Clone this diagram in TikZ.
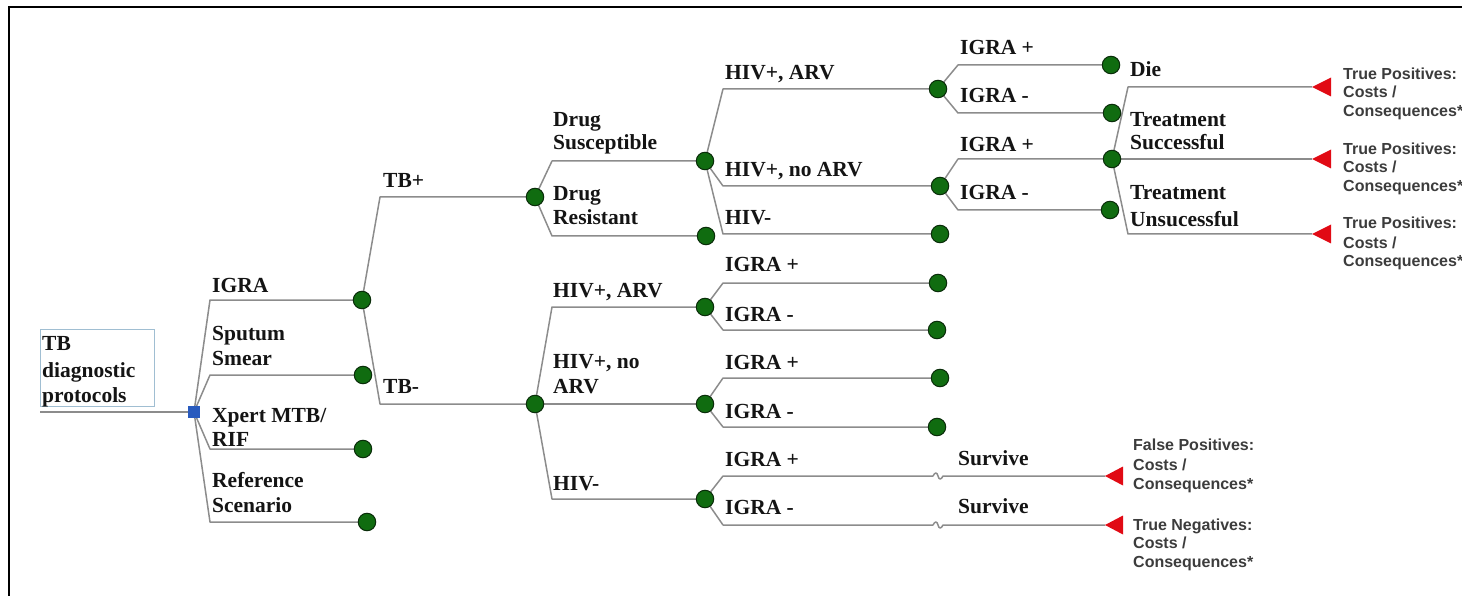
\documentclass[tikz,border=0pt]{standalone}
\usepackage{fontspec}
\setmainfont{Liberation Serif}
\newfontfamily\lsans{Liberation Sans}
\usetikzlibrary{calc,backgrounds}
\definecolor{linec}{RGB}{140,140,140}
\definecolor{cfill}{RGB}{16,108,16}
\definecolor{cdraw}{RGB}{10,45,10}
\definecolor{sqc}{RGB}{40,90,190}
\definecolor{boxc}{RGB}{160,190,210}
\definecolor{tric}{RGB}{225,10,20}
\definecolor{txt}{RGB}{20,20,20}
\definecolor{stxt}{RGB}{60,60,60}
\newcommand\tbranch[3]{\draw[branch] (#1.center) -- ($(#1.center |- #2.center)+(#3,0)$) -- (#2.center);}
\newcommand\tritip[1]{\fill[tric] (#1) -- ++(19,-9.5) -- ++(0,19) -- cycle;}
\begin{document}
\begin{tikzpicture}[x=1pt,y=-1pt,
 branch/.style={draw=linec, line width=1.5pt, line join=round},
 chance/.style={circle, fill=cfill, draw=cdraw, line width=1pt, minimum size=17.5pt, inner sep=0pt},
 lbl/.style={anchor=base west, inner sep=0pt, text=txt, font=\bfseries\fontsize{21.5}{24}\selectfont},
 outc/.style={anchor=base west, inner sep=0pt, text=stxt, font=\lsans\bfseries\fontsize{16}{18}\selectfont}]
\clip (0,0) rectangle (1462,596);
\draw[line width=2pt] (9,600) -- (9,7) -- (1470,7);

% root
\node[draw=boxc, line width=0.8pt, anchor=north west, minimum width=114pt, minimum height=77pt, inner sep=0pt] (root) at (40,329) {};
\node[lbl] (rt1) at (42,350) {TB};
\node[lbl] (rt2) at (42,377) {diagnostic};
\node[lbl] (rt3) at (42,402) {protocols};
\coordinate (rootl) at (40,412);
\node[fill=sqc, minimum size=12pt, inner sep=0pt] (sq) at (194,412) {};

% chance nodes
\node[chance] (c1) at (362,300) {};
\node[chance] (c2) at (363,375) {};
\node[chance] (c3) at (363,449) {};
\node[chance] (c4) at (367,522) {};
\node[chance] (tbp) at (535,197) {};
\node[chance] (tbm) at (535,404) {};
\node[chance] (ds) at (705,161) {};
\node[chance] (dr) at (706,236) {};
\node[chance] (a1) at (938,89) {};
\node[chance] (a2) at (940,186) {};
\node[chance] (a3) at (940,234) {};
\node[chance] (b1) at (1111,65) {};
\node[chance] (b2) at (1112,113) {};
\node[chance] (b3) at (1112,159) {};
\node[chance] (b4) at (1110,210) {};
\node[chance] (d1) at (705,307) {};
\node[chance] (d2) at (705,404) {};
\node[chance] (d3) at (705,499) {};
\node[chance] (e1) at (938,283) {};
\node[chance] (e2) at (937,330) {};
\node[chance] (e3) at (940,378) {};
\node[chance] (e4) at (937,427) {};
\coordinate (t1) at (1312,87);
\coordinate (t2) at (1312,159);
\coordinate (t3) at (1312,234);
\coordinate (f1) at (1105,476);
\coordinate (f2) at (1105,525);
\coordinate (f1b) at (933,476);
\coordinate (f2b) at (933,525);

\begin{pgfonlayer}{background}
\draw[branch] (rootl) -- (sq);
\tbranch{sq}{c1}{16}
\tbranch{sq}{c2}{16}
\tbranch{sq}{c3}{16}
\tbranch{sq}{c4}{16}
\tbranch{c1}{tbp}{18}
\tbranch{c1}{tbm}{18}
\tbranch{tbp}{ds}{17}
\tbranch{tbp}{dr}{17}
\tbranch{ds}{a1}{18}
\tbranch{ds}{a2}{18}
\tbranch{ds}{a3}{18}
\tbranch{a1}{b1}{20}
\tbranch{a1}{b2}{20}
\tbranch{a2}{b3}{18}
\tbranch{a2}{b4}{18}
\tbranch{b3}{t1}{16}
\tbranch{b3}{t2}{16}
\tbranch{b3}{t3}{16}
\tbranch{tbm}{d1}{17}
\tbranch{tbm}{d2}{17}
\tbranch{tbm}{d3}{17}
\tbranch{d1}{e1}{18}
\tbranch{d1}{e2}{18}
\tbranch{d2}{e3}{18}
\tbranch{d2}{e4}{18}
\draw[branch] (d3.center) -- ($(d3.center |- f1)+(18,0)$) -- (f1b)
  .. controls +(2,-4) and +(-1,-4) .. ++(5,0)
  .. controls +(1,4) and +(-2,4) .. ++(5,0) -- (f1);
\draw[branch] (d3.center) -- ($(d3.center |- f2)+(18,0)$) -- (f2b)
  .. controls +(2,-4) and +(-1,-4) .. ++(5,0)
  .. controls +(1,4) and +(-2,4) .. ++(5,0) -- (f2);
\end{pgfonlayer}

\tritip{t1}
\tritip{t2}
\tritip{t3}
\fill[tric] (f1) -- ++(18,-9.5) -- ++(0,19) -- cycle;
\fill[tric] (f2) -- ++(18,-9.5) -- ++(0,19) -- cycle;

% labels
\node[lbl] (l1) at (212,292) {IGRA};
\node[lbl] (l2a) at (212,340) {Sputum};
\node[lbl] (l2b) at (212,365) {Smear};
\node[lbl] (l3a) at (212,422) {Xpert MTB/};
\node[lbl] (l3b) at (212,446) {RIF};
\node[lbl] (l4a) at (212,487) {Reference};
\node[lbl] (l4b) at (212,512) {Scenario};
\node[lbl] (ltp) at (383,188) {TB+};
\node[lbl] (ltm) at (383,393) {TB-};
\node[lbl] (lds1) at (553,127) {Drug};
\node[lbl] (lds2) at (553,150) {Susceptible};
\node[lbl] (ldr1) at (553,201) {Drug};
\node[lbl] (ldr2) at (553,225) {Resistant};
\node[lbl] (la1) at (725,80) {HIV+, ARV};
\node[lbl] (la2) at (725,177) {HIV+, no ARV};
\node[lbl] (la3) at (725,225) {HIV-};
\node[lbl] (lb1) at (960,55) {IGRA +};
\node[lbl] (lb2) at (960,103) {IGRA -};
\node[lbl] (lb3) at (960,152) {IGRA +};
\node[lbl] (lb4) at (960,200) {IGRA -};
\node[lbl] (lt1) at (1130,77) {Die};
\node[lbl] (lt2a) at (1130,127) {Treatment};
\node[lbl] (lt2b) at (1130,150) {Successful};
\node[lbl] (lt3a) at (1130,200) {Treatment};
\node[lbl] (lt3b) at (1130,227) {Unsucessful};
\node[lbl] (ld1) at (553,297) {HIV+, ARV};
\node[lbl] (ld2a) at (553,368) {HIV+, no};
\node[lbl] (ld2b) at (553,393) {ARV};
\node[lbl] (ld3) at (553,490) {HIV-};
\node[lbl] (le1) at (725,272) {IGRA +};
\node[lbl] (le2) at (725,321) {IGRA -};
\node[lbl] (le3) at (725,369) {IGRA +};
\node[lbl] (le4) at (725,418) {IGRA -};
\node[lbl] (lf1) at (725,466) {IGRA +};
\node[lbl] (lf2) at (725,514) {IGRA -};
\node[lbl] (ls1) at (958,465) {Survive};
\node[lbl] (ls2) at (958,513) {Survive};

% outcomes
\node[outc] (o1a) at (1343,80) {True Positives:};
\node[outc] (o1b) at (1343,98) {Costs /};
\node[outc] (o1c) at (1343,117) {Consequences*};
\node[outc] (o2a) at (1343,155) {True Positives:};
\node[outc] (o2b) at (1343,173) {Costs /};
\node[outc] (o2c) at (1343,192) {Consequences*};
\node[outc] (o3a) at (1343,229) {True Positives:};
\node[outc] (o3b) at (1343,248) {Costs /};
\node[outc] (o3c) at (1343,266) {Consequences*};
\node[outc] (o4a) at (1133,450) {False Positives:};
\node[outc] (o4b) at (1133,470) {Costs /};
\node[outc] (o4c) at (1133,489) {Consequences*};
\node[outc] (o5a) at (1133,530) {True Negatives:};
\node[outc] (o5b) at (1133,548) {Costs /};
\node[outc] (o5c) at (1133,567) {Consequences*};
\end{tikzpicture}
\end{document}
